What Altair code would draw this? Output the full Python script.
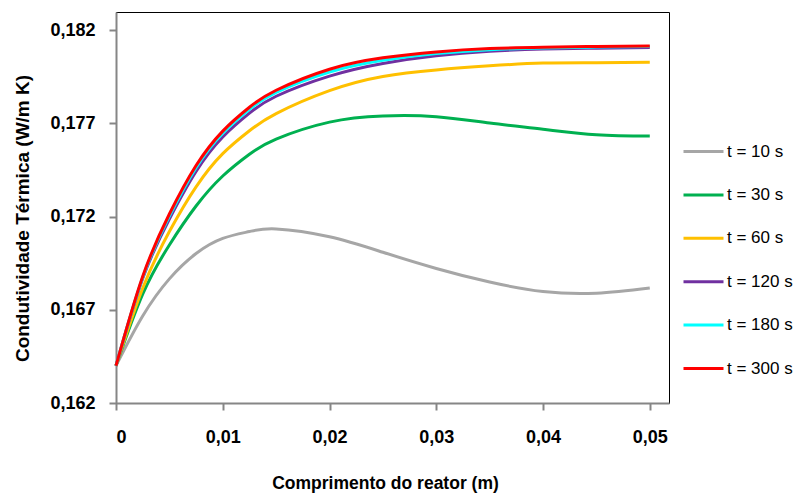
import altair as alt
import pandas as pd

# Axial position along the reactor (m)
x_pos = [0, 0.0025, 0.005, 0.0075, 0.01, 0.0125, 0.015, 0.02, 0.025, 0.03, 0.035, 0.04, 0.045, 0.05]

# Thermal conductivity (W/m K) at each instant
k_10 = [0.1640, 0.16667, 0.16866, 0.17002, 0.17083, 0.17120, 0.17134, 0.17092, 0.17009, 0.16922, 0.16849, 0.16798, 0.16789, 0.16817]
k_30 = [0.1640, 0.16784, 0.17048, 0.17257, 0.17418, 0.17535, 0.17616, 0.17707, 0.17740, 0.17736, 0.17702, 0.17669, 0.17639, 0.17632]
k_60 = [0.1640, 0.16816, 0.17120, 0.17360, 0.17538, 0.17661, 0.17753, 0.17876, 0.17952, 0.17987, 0.18009, 0.18024, 0.18026, 0.18029]
k_120 = [0.1640, 0.16868, 0.17187, 0.17442, 0.17627, 0.17755, 0.17846, 0.17954, 0.18022, 0.18063, 0.18087, 0.18099, 0.18104, 0.18107]
k_180 = [0.1640, 0.16874, 0.17203, 0.17463, 0.17648, 0.17776, 0.17867, 0.17976, 0.18039, 0.18075, 0.18096, 0.18105, 0.18110, 0.18113]
k_300 = [0.1640, 0.16879, 0.17214, 0.17474, 0.17659, 0.17787, 0.17878, 0.17991, 0.18052, 0.18084, 0.18102, 0.18109, 0.18113, 0.18116]

series_names = ["t = 10 s", "t = 30 s", "t = 60 s", "t = 120 s", "t = 180 s", "t = 300 s"]
series_colors = ["#A6A6A6", "#00B050", "#FFC000", "#7030A0", "#00FFFF", "#FF0000"]
series_values = [k_10, k_30, k_60, k_120, k_180, k_300]

y_ticks = [0.162, 0.167, 0.172, 0.177, 0.182]
x_ticks = [0, 0.01, 0.02, 0.03, 0.04, 0.05]

rows = []
for order, (name, vals) in enumerate(zip(series_names, series_values)):
    for xv, yv in zip(x_pos, vals):
        rows.append({"x": xv, "k": yv, "serie": name, "ordem": order})
df = pd.DataFrame(rows)

FONT = "Liberation Sans, Arial, sans-serif"
AXIS_GRAY = "#868686"

chart = alt.Chart(df).mark_line(strokeWidth=3, interpolate="natural").encode(
    x=alt.X(
        "x:Q",
        scale=alt.Scale(domain=[0, 0.0518], nice=False, zero=False),
        axis=alt.Axis(
            title="Comprimento do reator (m)",
            values=x_ticks,
            labelExpr="datum.value == 0 ? '0' : replace(format(datum.value, '.2f'), '.', ',')",
            labelPadding=18,
            titleFontSize=17.5,
            titleX=269,
            titleY=80,
            titleBaseline="middle",
            titleAlign="center",
        ),
    ),
    y=alt.Y(
        "k:Q",
        scale=alt.Scale(domain=[0.162, 0.18298], nice=False, zero=False),
        axis=alt.Axis(
            title="Condutividade Térmica (W/m K)",
            values=y_ticks,
            labelExpr="replace(format(datum.value, '.3f'), '.', ',')",
            labelPadding=14,
            titleFontSize=19,
            titleAngle=270,
            titleX=-94,
            titleY=206,
            titleBaseline="middle",
            titleAlign="center",
        ),
    ),
    color=alt.Color(
        "serie:N",
        sort=series_names,
        scale=alt.Scale(domain=series_names, range=series_colors),
        legend=alt.Legend(
            title=None,
            orient="none",
            legendX=566,
            legendY=118,
            symbolType="stroke",
            symbolSize=1600,
            symbolStrokeWidth=3,
            rowPadding=13.4,
            labelOffset=2,
            labelFont=FONT,
            labelFontSize=17,
            labelColor="#000000",
            padding=0,
        ),
    ),
    order=alt.Order("ordem:Q"),
).properties(
    width=553,
    height=391,
    background="#FFFFFF",
    autosize=alt.AutoSizeParams(type="none"),
    padding={"left": 116, "top": 12, "right": 126, "bottom": 93},
).configure_view(
    stroke="#000000", strokeWidth=1
).configure_axis(
    grid=False,
    domainColor=AXIS_GRAY,
    domainWidth=2,
    tickColor=AXIS_GRAY,
    tickWidth=2,
    tickSize=7,
    labelFont=FONT,
    labelFontSize=18,
    labelFontWeight="bold",
    labelColor="#000000",
    titleFont=FONT,
    titleFontWeight="bold",
    titleColor="#000000",
)

chart.save("out.html", embed_options={"renderer": "svg", "actions": False})
